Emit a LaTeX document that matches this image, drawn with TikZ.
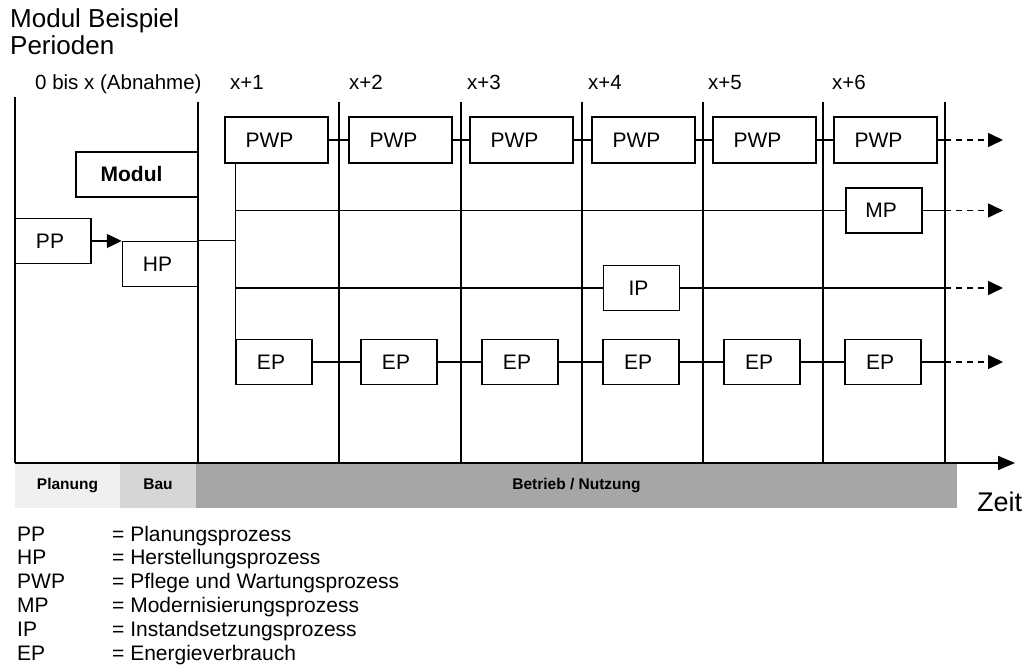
\documentclass[tikz,border=0pt]{standalone}
\usepackage{fontspec}
\setmainfont{Liberation Sans}
\usetikzlibrary{arrows.meta,positioning,calc}
\definecolor{planlight}{HTML}{F0F0F0}
\definecolor{baugray}{HTML}{D6D6D6}
\definecolor{betriebgray}{HTML}{A6A6A6}

\begin{document}
\begin{tikzpicture}[
    x=1pt, y=-1pt,
    >={Triangle[length=15pt, width=14pt]},
    textshift/.initial=-6pt,
    txt/.style={inner sep=0pt, anchor=base west, font=\fontsize{21}{25}\selectfont},
    title/.style={txt, font=\fontsize{26}{30}\selectfont},
    period/.style={txt, font=\fontsize{20.5}{24}\selectfont},
    proc/.style={draw, line width=1.5pt, minimum width=76pt, minimum height=45pt, inner sep=0pt, text height=15pt, text depth=0pt, font=\fontsize{21}{25}\selectfont, execute at begin node={\hspace*{\pgfkeysvalueof{/tikz/textshift}}}},
    pwp/.style={proc, minimum width=103pt, minimum height=46pt, textshift=-14pt},
    periodline/.style={line width=1.8pt},
    link/.style={line width=1.5pt},
    dasharrow/.style={->, line width=1.5pt, dash pattern=on 6pt off 5pt},
    phase/.style={minimum height=45pt, inner sep=0pt, text height=11.5pt, text depth=3pt, font=\fontsize{15.5}{18}\selectfont\bfseries},
]
    \useasboundingbox (0,0) rectangle (1025,668);

    % =====================================================================
    % TITLES AND PERIODS
    % =====================================================================
    \node[title] (titel) at (10, 28) {Modul Beispiel};
    \node[title] (perioden) at (10, 55) {Perioden};

    \node[period] (p0) at (35, 90) {0 bis x (Abnahme)};
    \node[period] (p1) at (230, 90) {x+1};
    \node[period] (p2) at (349, 90) {x+2};
    \node[period] (p3) at (467, 90) {x+3};
    \node[period] (p4) at (588, 90) {x+4};
    \node[period] (p5) at (708, 90) {x+5};
    \node[period] (p6) at (832, 90) {x+6};

    % Period boundaries
    \draw[periodline] (15, 97) -- (15, 463);
    \draw[periodline] (198, 102) -- (198, 463);
    \draw[periodline] (339, 102) -- (339, 463);
    \draw[periodline] (461, 102) -- (461, 463);
    \draw[periodline] (582, 102) -- (582, 463);
    \draw[periodline] (703, 102) -- (703, 463);
    \draw[periodline] (823, 102) -- (823, 463);
    \draw[periodline] (945, 102) -- (945, 463);

    \coordinate (lend) at (945, 0);
    \coordinate (tip) at (1003, 0);

    % =====================================================================
    % PLANNING AND CONSTRUCTION
    % =====================================================================
    \node[proc, minimum width=122pt, textshift=-11pt, font=\fontsize{21}{25}\selectfont\bfseries] (modul) at (137, 174.5) {Modul};
    \node[proc] (pp) at (53, 241) {PP};
    \node[proc] (hp) at (160.5, 264) {HP};

    \draw[link, ->] (pp.east) -- (pp.east -| hp.west);

    % =====================================================================
    % OPERATION: PROCESS ROWS
    % =====================================================================
    % Maintenance
    \node[pwp] (pwp1) at (276.5, 140) {PWP};
    \node[pwp] (pwp2) at (400.5, 140) {PWP};
    \node[pwp] (pwp3) at (521.5, 140) {PWP};
    \node[pwp] (pwp4) at (643.5, 140) {PWP};
    \node[pwp] (pwp5) at (764.5, 140) {PWP};
    \node[pwp] (pwp6) at (885.5, 140) {PWP};

    \draw[link] (pwp1.east) -- (pwp2.west);
    \draw[link] (pwp2.east) -- (pwp3.west);
    \draw[link] (pwp3.east) -- (pwp4.west);
    \draw[link] (pwp4.east) -- (pwp5.west);
    \draw[link] (pwp5.east) -- (pwp6.west);
    \draw[link] (pwp6.east) -- (pwp6.east -| lend);
    \draw[dasharrow] (pwp6.east -| lend) -- (pwp6.east -| tip);

    % Energy
    \node[proc] (ep1) at (274, 362) {EP};
    \node[proc] (ep2) at (399, 362) {EP};
    \node[proc] (ep3) at (520, 362) {EP};
    \node[proc] (ep4) at (641, 362) {EP};
    \node[proc] (ep5) at (762, 362) {EP};
    \node[proc] (ep6) at (883, 362) {EP};

    \draw[link] (ep1.east) -- (ep2.west);
    \draw[link] (ep2.east) -- (ep3.west);
    \draw[link] (ep3.east) -- (ep4.west);
    \draw[link] (ep4.east) -- (ep5.west);
    \draw[link] (ep5.east) -- (ep6.west);
    \draw[link] (ep6.east) -- (ep6.east -| lend);
    \draw[dasharrow] (ep6.east -| lend) -- (ep6.east -| tip);

    % Modernisation and repair
    \node[proc] (mp) at (884, 210.5) {MP};
    \node[proc] (ip) at (641.5, 288) {IP};

    % Branch from HP
    \draw[link] (hp.north east) -- (hp.north east -| ep1.west);
    \draw[link] (pwp1.south -| ep1.west) -- (ep1.north west);

    \draw[link] (ep1.west |- mp.west) -- (mp.west);
    \draw[link] (mp.east) -- (mp.east -| lend);
    \draw[dasharrow] (mp.east -| lend) -- (mp.east -| tip);

    \draw[link] (ep1.west |- ip.west) -- (ip.west);
    \draw[link] (ip.east) -- (ip.east -| lend);
    \draw[dasharrow] (ip.east -| lend) -- (ip.east -| tip);

    % =====================================================================
    % TIME AXIS AND PHASES
    % =====================================================================
    \node[phase, fill=planlight, minimum width=105pt] (planung) at (67.5, 485.5) {Planung};
    \node[phase, fill=baugray, minimum width=76pt] (bau) at (158, 485.5) {Bau};
    \node[phase, fill=betriebgray, minimum width=761pt] (betrieb) at (576.5, 485.5) {Betrieb / Nutzung};

    \coordinate (origin) at (15, 463);
    \coordinate (zeitend) at (1015, 463);
    \draw[periodline, -{Triangle[length=17pt, width=14pt]}] (origin) -- (zeitend);
    \node[txt, font=\fontsize{27}{30}\selectfont] (zeit) at (977, 511) {Zeit};

    % =====================================================================
    % LEGEND
    % =====================================================================
    \node[txt] (lpp) at (17, 541) {PP};
    \node[txt] (lhp) at (17, 564.8) {HP};
    \node[txt] (lpwp) at (17, 588.6) {PWP};
    \node[txt] (lmp) at (17, 612.4) {MP};
    \node[txt] (lip) at (17, 636.2) {IP};
    \node[txt] (lep) at (17, 660) {EP};

    \node[txt] (dpp) at (112, 541) {= Planungsprozess};
    \node[txt] (dhp) at (112, 564.8) {= Herstellungsprozess};
    \node[txt] (dpwp) at (112, 588.6) {= Pflege und Wartungsprozess};
    \node[txt] (dmp) at (112, 612.4) {= Modernisierungsprozess};
    \node[txt] (dip) at (112, 636.2) {= Instandsetzungsprozess};
    \node[txt] (dep) at (112, 660) {= Energieverbrauch};

\end{tikzpicture}
\end{document}
